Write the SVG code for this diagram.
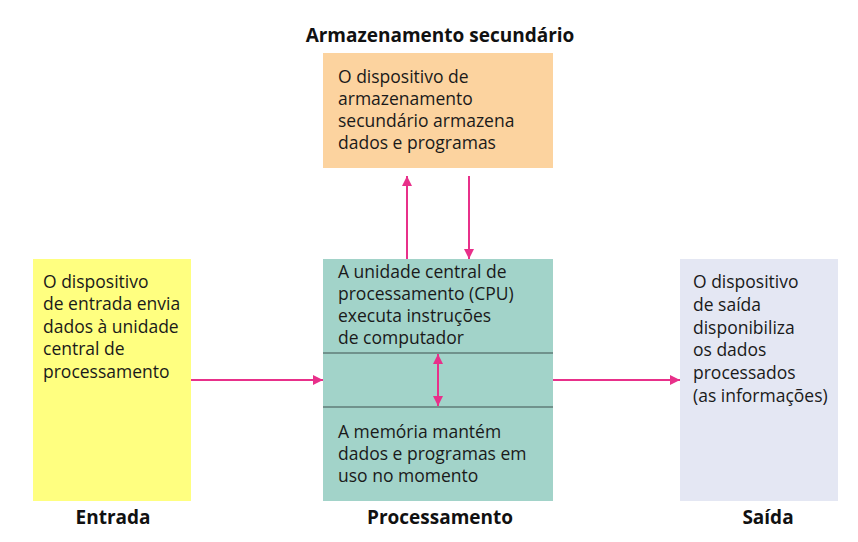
<svg xmlns="http://www.w3.org/2000/svg" width="858" height="542" viewBox="0 0 858 542">
<style>
.t{font-family:"Open Sans",Lato,"Liberation Sans",sans-serif;font-size:17.5px;fill:#1a1a1a}
.b{font-family:"Open Sans",Lato,"Liberation Sans",sans-serif;font-size:19px;font-weight:bold;fill:#111}
.c{stroke:#e8308a;stroke-width:2;fill:none}
.d{stroke:#5f7c77;stroke-width:1.5}
</style>
<defs>
<marker id="ah" viewBox="0 0 10 10" refX="10" refY="5" markerWidth="11" markerHeight="10" orient="auto-start-reverse" markerUnits="userSpaceOnUse">
<path d="M0,0 L10,5 L0,10 z" fill="#e8308a"/>
</marker>
</defs>
<g id="title-secundario"><text class="b" x="440" y="42" text-anchor="middle">Armazenamento secundário</text></g>
<g id="node-armazenamento">
<rect x="323" y="53" width="230" height="115" fill="#fcd39f"/>
<text class="t" x="338" y="83">O dispositivo de</text>
<text class="t" x="338" y="105">armazenamento</text>
<text class="t" x="338" y="127">secundário armazena</text>
<text class="t" x="338" y="149">dados e programas</text>
</g>
<g id="node-entrada">
<rect x="33" y="259" width="158" height="242" fill="#ffff80"/>
<text class="t" x="43" y="288">O dispositivo</text>
<text class="t" x="43" y="310">de entrada envia</text>
<text class="t" x="43" y="333">dados à unidade</text>
<text class="t" x="43" y="355">central de</text>
<text class="t" x="43" y="378">processamento</text>
</g>
<g id="node-processamento">
<rect x="323" y="259" width="230" height="242" fill="#a2d3c9"/>
<line class="d" x1="323" y1="353" x2="553" y2="353"/>
<line class="d" x1="323" y1="407" x2="553" y2="407"/>
<text class="t" x="338" y="278">A unidade central de</text>
<text class="t" x="338" y="300">processamento (CPU)</text>
<text class="t" x="338" y="322">executa instruções</text>
<text class="t" x="338" y="344">de computador</text>
<text class="t" x="338" y="438">A memória mantém</text>
<text class="t" x="338" y="460">dados e programas em</text>
<text class="t" x="338" y="482">uso no momento</text>
</g>
<g id="node-saida">
<rect x="680" y="259" width="158" height="242" fill="#e4e7f3"/>
<text class="t" x="693" y="288">O dispositivo</text>
<text class="t" x="693" y="311">de saída</text>
<text class="t" x="693" y="334">disponibiliza</text>
<text class="t" x="693" y="356">os dados</text>
<text class="t" x="693" y="379">processados</text>
<text class="t" x="693" y="402">(as informações)</text>
</g>
<g id="labels">
<text class="b" x="113" y="524" text-anchor="middle">Entrada</text>
<text class="b" x="440" y="524" text-anchor="middle">Processamento</text>
<text class="b" x="768" y="524" text-anchor="middle">Saída</text>
</g>
<g id="connectors">
<line class="c" x1="407" y1="259" x2="407" y2="176" marker-end="url(#ah)"/>
<line class="c" x1="469" y1="176" x2="469" y2="259" marker-end="url(#ah)"/>
<line class="c" x1="438" y1="354" x2="438" y2="406" marker-start="url(#ah)" marker-end="url(#ah)"/>
<line class="c" x1="191" y1="380" x2="323" y2="380" marker-end="url(#ah)"/>
<line class="c" x1="553" y1="380" x2="680" y2="380" marker-end="url(#ah)"/>
</g>
</svg>
